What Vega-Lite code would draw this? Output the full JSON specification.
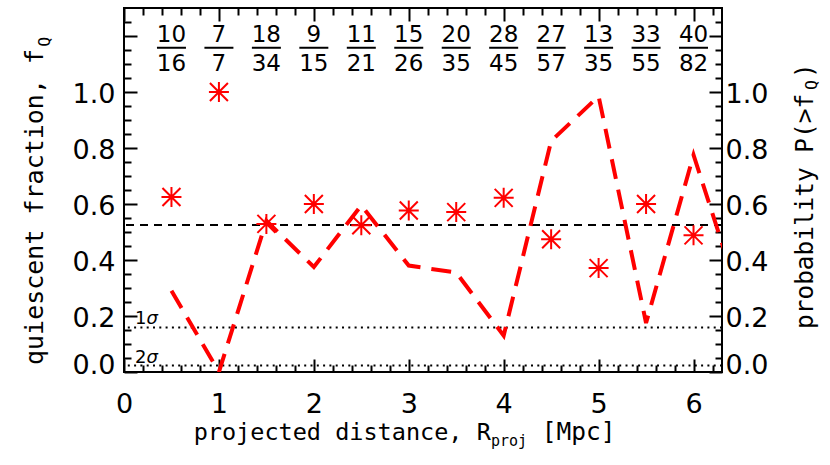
{
  "$schema": "https://vega.github.io/schema/vega-lite/v6.json",
  "width": 598,
  "height": 364,
  "autosize": {"type": "none"},
  "padding": {"left": 124, "top": 8, "right": 108, "bottom": 93},
  "background": "white",
  "config": {
    "view": {"stroke": "black", "strokeWidth": 2},
    "axis": {"domain": false, "grid": false, "tickColor": "black", "tickWidth": 2, "labelColor": "black", "labelFont": "DejaVu Sans", "labelFontSize": 27}
  },
  "datasets": {
    "bins": [
      {"r": 0.5, "num": "10", "den": "16", "fq": 0.625},
      {"r": 1.0, "num": "7", "den": "7", "fq": 1.0},
      {"r": 1.5, "num": "18", "den": "34", "fq": 0.529},
      {"r": 2.0, "num": "9", "den": "15", "fq": 0.6},
      {"r": 2.5, "num": "11", "den": "21", "fq": 0.524},
      {"r": 3.0, "num": "15", "den": "26", "fq": 0.577},
      {"r": 3.5, "num": "20", "den": "35", "fq": 0.571},
      {"r": 4.0, "num": "28", "den": "45", "fq": 0.622},
      {"r": 4.5, "num": "27", "den": "57", "fq": 0.474},
      {"r": 5.0, "num": "13", "den": "35", "fq": 0.371},
      {"r": 5.5, "num": "33", "den": "55", "fq": 0.6},
      {"r": 6.0, "num": "40", "den": "82", "fq": 0.488}
    ],
    "prob": [
      {"r": 0.5, "p": 0.29},
      {"r": 1.0, "p": 0.0},
      {"r": 1.5, "p": 0.54},
      {"r": 2.0, "p": 0.375},
      {"r": 2.5, "p": 0.595},
      {"r": 3.0, "p": 0.38},
      {"r": 3.5, "p": 0.355},
      {"r": 4.0, "p": 0.13},
      {"r": 4.5, "p": 0.825},
      {"r": 5.0, "p": 0.985},
      {"r": 5.5, "p": 0.175},
      {"r": 6.0, "p": 0.775},
      {"r": 6.5, "p": 0.25}
    ],
    "sigma": [
      {"lev": "1", "p": 0.159},
      {"lev": "2", "p": 0.023}
    ],
    "mean": [{"fq": 0.525}],
    "one": [{}]
  },
  "layer": [
    {
      "data": {"name": "mean"},
      "mark": {"type": "rule", "color": "black", "strokeWidth": 2, "strokeDash": [8, 6]},
      "encoding": {
        "y": {"field": "fq", "type": "quantitative", "scale": {"domain": [0, 1.3], "nice": false, "zero": false},
          "axis": {"orient": "right", "values": [0, 0.2, 0.4, 0.6, 0.8, 1.0, 1.2], "tickSize": -13, "labelPadding": 16, "labelFlush": false, "labelOverlap": false, "labelAlign": "left", "labelExpr": "datum.value > 1.1 ? '' : format(datum.value, '.1f')", "labelOffset": {"condition": {"test": "datum.value == 0", "value": -7}, "value": 2}, "title": null}}
      }
    },
    {
      "data": {"name": "sigma"},
      "mark": {"type": "rule", "color": "black", "strokeWidth": 2, "strokeDash": [2, 4.3]},
      "encoding": {
        "y": {"field": "p", "type": "quantitative", "scale": {"domain": [0, 1.3], "nice": false, "zero": false},
          "axis": {"orient": "right", "values": [0.05, 0.1, 0.15, 0.25, 0.3, 0.35, 0.45, 0.5, 0.55, 0.65, 0.7, 0.75, 0.85, 0.9, 0.95, 1.05, 1.1, 1.15, 1.25], "tickSize": -7, "labels": false, "title": null}}
      }
    },
    {
      "data": {"name": "prob"},
      "mark": {"type": "line", "color": "#ff0000", "strokeWidth": 4, "strokeDash": [20, 11], "clip": true},
      "encoding": {
        "x": {"field": "r", "type": "quantitative", "scale": {"domain": [0, 6.3], "nice": false, "zero": false},
          "axis": {"orient": "bottom", "values": [0.2, 0.4, 0.6, 0.8, 1.2, 1.4, 1.6, 1.8, 2.2, 2.4, 2.6, 2.8, 3.2, 3.4, 3.6, 3.8, 4.2, 4.4, 4.6, 4.8, 5.2, 5.4, 5.6, 5.8, 6.2], "tickSize": -7, "labels": false, "title": null}},
        "y": {"field": "p", "type": "quantitative", "scale": {"domain": [0, 1.3], "nice": false, "zero": false},
          "axis": {"orient": "left", "values": [0.05, 0.1, 0.15, 0.25, 0.3, 0.35, 0.45, 0.5, 0.55, 0.65, 0.7, 0.75, 0.85, 0.9, 0.95, 1.05, 1.1, 1.15, 1.25], "tickSize": -7, "labels": false, "title": null}}
      }
    },
    {
      "data": {"name": "bins"},
      "mark": {"type": "point", "shape": "M-1,0L1,0M0,-1L0,1M-0.9,-0.9L0.9,0.9M-0.9,0.9L0.9,-0.9", "size": 400, "filled": false, "color": "#ff0000", "strokeWidth": 2, "opacity": 1},
      "encoding": {
        "x": {"field": "r", "type": "quantitative", "scale": {"domain": [0, 6.3], "nice": false, "zero": false},
          "axis": {"orient": "bottom", "values": [0, 1, 2, 3, 4, 5, 6], "tickSize": -13, "labelPadding": 32, "labelFlush": false, "labelOverlap": false, "format": "d", "title": null}},
        "y": {"field": "fq", "type": "quantitative", "scale": {"domain": [0, 1.3], "nice": false, "zero": false},
          "axis": {"orient": "left", "values": [0, 0.2, 0.4, 0.6, 0.8, 1.0, 1.2], "tickSize": -13, "labelPadding": 22, "labelFlush": false, "labelOverlap": false, "labelExpr": "datum.value > 1.1 ? '' : format(datum.value, '.1f')", "labelOffset": {"condition": {"test": "datum.value == 0", "value": -7}, "value": 2}, "title": null}}
      }
    },
    {
      "data": {"name": "bins"},
      "mark": {"type": "text", "font": "DejaVu Sans", "fontSize": 23, "align": "center", "baseline": "alphabetic", "color": "black"},
      "encoding": {
        "x": {"field": "r", "type": "quantitative", "scale": {"domain": [0, 6.3], "nice": false, "zero": false},
          "axis": {"orient": "top", "values": [0, 1, 2, 3, 4, 5, 6], "tickSize": -13, "labels": false, "title": null}},
        "y": {"datum": 1.18, "type": "quantitative", "axis": null},
        "text": {"field": "num"}
      }
    },
    {
      "data": {"name": "bins"},
      "mark": {"type": "text", "font": "DejaVu Sans", "fontSize": 23, "align": "center", "baseline": "alphabetic", "color": "black"},
      "encoding": {
        "x": {"field": "r", "type": "quantitative", "scale": {"domain": [0, 6.3], "nice": false, "zero": false},
          "axis": {"orient": "top", "values": [0.2, 0.4, 0.6, 0.8, 1.2, 1.4, 1.6, 1.8, 2.2, 2.4, 2.6, 2.8, 3.2, 3.4, 3.6, 3.8, 4.2, 4.4, 4.6, 4.8, 5.2, 5.4, 5.6, 5.8, 6.2], "tickSize": -7, "labels": false, "title": null}},
        "y": {"datum": 1.076, "type": "quantitative", "axis": null},
        "text": {"field": "den"}
      }
    },
    {
      "data": {"name": "bins"},
      "mark": {"type": "tick", "orient": "horizontal", "size": 29, "thickness": 2, "color": "black", "opacity": 1},
      "encoding": {
        "x": {"field": "r", "type": "quantitative", "axis": null},
        "y": {"datum": 1.158, "type": "quantitative", "axis": null}
      }
    },
    {
      "data": {"name": "sigma"},
      "mark": {"type": "text", "font": "DejaVu Sans", "fontSize": 18, "align": "left", "baseline": "alphabetic", "dy": -3, "color": "black"},
      "encoding": {
        "x": {"datum": 0.116, "type": "quantitative", "axis": null},
        "y": {"field": "p", "type": "quantitative", "axis": null},
        "text": {"field": "lev"}
      }
    },
    {
      "data": {"name": "sigma"},
      "mark": {"type": "text", "font": "DejaVu Sans", "fontSize": 18, "fontStyle": "italic", "align": "left", "baseline": "alphabetic", "dy": -3, "dx": 11.5, "color": "black", "text": "σ"},
      "encoding": {
        "x": {"datum": 0.116, "type": "quantitative", "axis": null},
        "y": {"field": "p", "type": "quantitative", "axis": null}
      }
    },
    {
      "data": {"name": "one"},
      "mark": {"type": "text", "font": "DejaVu Sans Mono", "fontSize": 25, "angle": 270, "align": "left", "baseline": "alphabetic", "color": "black", "text": "quiescent fraction, f"},
      "encoding": {
        "x": {"datum": -0.85, "type": "quantitative", "axis": null},
        "y": {"datum": 0.025, "type": "quantitative", "axis": null}
      }
    },
    {
      "data": {"name": "one"},
      "mark": {"type": "text", "font": "DejaVu Sans Mono", "fontSize": 16.5, "angle": 270, "align": "left", "baseline": "alphabetic", "color": "black", "text": "Q"},
      "encoding": {
        "x": {"datum": -0.78, "type": "quantitative", "axis": null},
        "y": {"datum": 1.162, "type": "quantitative", "axis": null}
      }
    },
    {
      "data": {"name": "one"},
      "mark": {"type": "text", "font": "DejaVu Sans Mono", "fontSize": 24.4, "angle": 270, "align": "left", "baseline": "alphabetic", "color": "black", "text": "probability P(>f"},
      "encoding": {
        "x": {"datum": 7.259, "type": "quantitative", "axis": null},
        "y": {"datum": 0.154, "type": "quantitative", "axis": null}
      }
    },
    {
      "data": {"name": "one"},
      "mark": {"type": "text", "font": "DejaVu Sans Mono", "fontSize": 16.5, "angle": 270, "align": "left", "baseline": "alphabetic", "color": "black", "text": "Q"},
      "encoding": {
        "x": {"datum": 7.301, "type": "quantitative", "axis": null},
        "y": {"datum": 1.007, "type": "quantitative", "axis": null}
      }
    },
    {
      "data": {"name": "one"},
      "mark": {"type": "text", "font": "DejaVu Sans Mono", "fontSize": 24.4, "angle": 270, "align": "left", "baseline": "alphabetic", "color": "black", "text": ")"},
      "encoding": {
        "x": {"datum": 7.259, "type": "quantitative", "axis": null},
        "y": {"datum": 1.05, "type": "quantitative", "axis": null}
      }
    },
    {
      "data": {"name": "one"},
      "mark": {"type": "text", "font": "DejaVu Sans Mono", "fontSize": 23.5, "align": "left", "baseline": "alphabetic", "color": "black", "text": "projected distance, R"},
      "encoding": {
        "x": {"datum": 0.734, "type": "quantitative", "axis": null},
        "y": {"datum": -0.243, "type": "quantitative", "axis": null}
      }
    },
    {
      "data": {"name": "one"},
      "mark": {"type": "text", "font": "DejaVu Sans Mono", "fontSize": 15, "align": "left", "baseline": "alphabetic", "color": "black", "text": "proj"},
      "encoding": {
        "x": {"datum": 3.866, "type": "quantitative", "axis": null},
        "y": {"datum": -0.264, "type": "quantitative", "axis": null}
      }
    },
    {
      "data": {"name": "one"},
      "mark": {"type": "text", "font": "DejaVu Sans Mono", "fontSize": 24.5, "align": "left", "baseline": "alphabetic", "color": "black", "text": "[Mpc]"},
      "encoding": {
        "x": {"datum": 4.4, "type": "quantitative", "axis": null},
        "y": {"datum": -0.243, "type": "quantitative", "axis": null}
      }
    }
  ],
  "resolve": {"axis": {"x": "independent", "y": "independent"}}
}
